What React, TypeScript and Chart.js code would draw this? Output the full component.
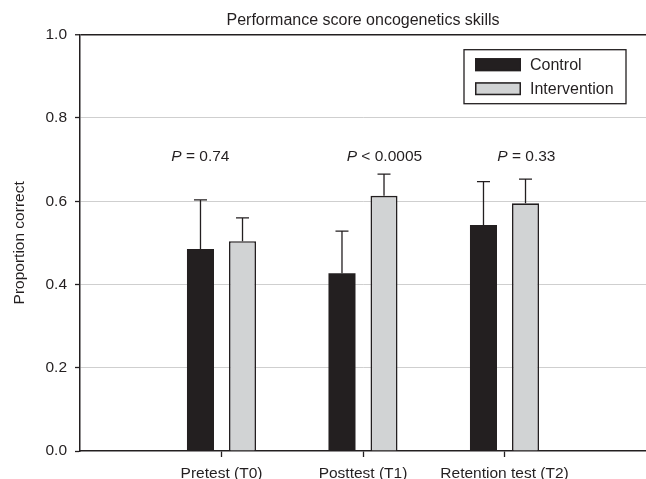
import React, { useEffect, useRef } from 'react';
import { Chart, registerables } from 'chart.js';

Chart.register(...registerables);

// ---- data ----
const categories = ['Pretest (T0)', 'Posttest (T1)', 'Retention test (T2)'];
const seriesNames = ['Control', 'Intervention'];
const controlMeans = [0.485, 0.427, 0.543];
const interventionMeans = [0.504, 0.613, 0.595];
const controlErrors = [0.118, 0.101, 0.104];
const interventionErrors = [0.056, 0.052, 0.058];
const yTickValues = [0, 0.2, 0.4, 0.6, 0.8, 1.0];
const pRelations = ['=', '<', '='];
const pValues = ['0.74', '0.0005', '0.33'];
const chartTitle = 'Performance score oncogenetics skills';
const yAxisTitle = 'Proportion correct';

// ---- style ----
const INK = '#231f20';
const GRAY_FILL = '#d1d3d4';
const GRID = '#cfcfcf';
const FONT = "'Liberation Sans', Arial, Helvetica, sans-serif";

const pad = <T,>(arr: T[]): (T | null)[] => [null, ...arr, null];

const errorBarPlugin = {
  id: 'errorBars',
  afterDatasetsDraw(chart: any, _args: any, opts: any) {
    const ctx = chart.ctx;
    const y = chart.scales.y;
    const errs: (number | null)[][] = opts.errors;
    chart.data.datasets.forEach((ds: any, di: number) => {
      const meta = chart.getDatasetMeta(di);
      meta.data.forEach((bar: any, i: number) => {
        const v = ds.data[i];
        const e = errs[di][i];
        if (v == null || e == null) return;
        const base = y.getPixelForValue(v);
        const top = y.getPixelForValue(v + e);
        ctx.save();
        ctx.strokeStyle = INK;
        ctx.lineWidth = 1.3;
        ctx.beginPath();
        ctx.moveTo(bar.x, base);
        ctx.lineTo(bar.x, top);
        ctx.moveTo(bar.x - 6.5, top);
        ctx.lineTo(bar.x + 6.5, top);
        ctx.stroke();
        ctx.restore();
      });
    });
  },
};

const pValuePlugin = {
  id: 'pValues',
  afterDraw(chart: any, _args: any, opts: any) {
    const ctx = chart.ctx;
    const xs = chart.scales.x;
    const ys = chart.scales.y;
    ctx.save();
    ctx.fillStyle = INK;
    ctx.textBaseline = 'alphabetic';
    ctx.textAlign = 'left';
    opts.items.forEach((it: any) => {
      const x = xs.getPixelForValue(it.xValue);
      const y = ys.getPixelForValue(it.yValue);
      ctx.font = `italic 15.5px ${FONT}`;
      ctx.fillText('P', x, y);
      const w = ctx.measureText('P').width;
      ctx.font = `15.5px ${FONT}`;
      ctx.fillText(` ${it.rel} ${it.value}`, x + w, y);
    });
    ctx.restore();
  },
};

const boxLegendPlugin = {
  id: 'boxLegend',
  afterDraw(chart: any) {
    const ctx = chart.ctx;
    const area = chart.chartArea;
    const w = 162;
    const h = 54;
    const left = area.right - 20 - w;
    const top = area.top + 15;
    ctx.save();
    ctx.fillStyle = '#ffffff';
    ctx.fillRect(left, top, w, h);
    ctx.strokeStyle = INK;
    ctx.lineWidth = 1.3;
    ctx.strokeRect(left, top, w, h);
    ctx.font = `16px ${FONT}`;
    ctx.textBaseline = 'middle';
    ctx.textAlign = 'left';
    chart.data.datasets.forEach((ds: any, i: number) => {
      const cy = top + 15 + i * 24;
      ctx.fillStyle = ds.backgroundColor;
      ctx.fillRect(left + 11, cy - 6.5, 46, 13);
      ctx.strokeStyle = INK;
      ctx.lineWidth = 1.5;
      ctx.strokeRect(left + 11.75, cy - 5.75, 44.5, 11.5);
      ctx.fillStyle = INK;
      ctx.fillText(ds.label, left + 66, cy + 1);
    });
    ctx.restore();
  },
};

export default function App() {
  const canvasRef = useRef<HTMLCanvasElement | null>(null);

  useEffect(() => {
    document.body.style.margin = '0';
    const canvas = canvasRef.current;
    if (!canvas) return;
    const labels = ['', ...categories, ''];
    const chart = new Chart(canvas, {
      type: 'bar',
      data: {
        labels,
        datasets: [
          {
            label: seriesNames[0],
            data: pad(controlMeans),
            backgroundColor: INK,
            borderColor: INK,
            borderWidth: 0,
          },
          {
            label: seriesNames[1],
            data: pad(interventionMeans),
            backgroundColor: GRAY_FILL,
            borderColor: INK,
            borderWidth: 1.6,
          },
        ],
      },
      options: {
        animation: false,
        responsive: true,
        maintainAspectRatio: false,
        categoryPercentage: 0.594,
        barPercentage: 0.643,
        layout: { padding: 0 },
        plugins: {
          legend: { display: false },
          tooltip: { enabled: false },
          title: {
            display: true,
            text: chartTitle,
            fullSize: false,
            color: INK,
            font: { family: FONT, size: 16, weight: 'normal', lineHeight: 1.2 },
            padding: { top: 10.9, bottom: 4.6 },
          },
          errorBars: { errors: [pad(controlErrors), pad(interventionErrors)] },
          pValues: {
            items: [
              { xValue: 0.645, yValue: 0.697, rel: pRelations[0], value: pValues[0] },
              { xValue: 1.885, yValue: 0.697, rel: pRelations[1], value: pValues[1] },
              { xValue: 2.949, yValue: 0.697, rel: pRelations[2], value: pValues[2] },
            ],
          },
        } as any,
        scales: {
          x: {
            type: 'category',
            offset: false,
            afterFit: (s: any) => {
              s.height = 28;
              s.paddingLeft = 0;
              s.paddingRight = 0;
            },
            grid: {
              offset: false,
              drawOnChartArea: false,
              drawTicks: true,
              tickLength: 6,
              tickWidth: 1.3,
              tickColor: (c: any) => (labels[c.index] ? INK : 'rgba(0,0,0,0)'),
            },
            border: { display: true, color: INK, width: 1.5 },
            ticks: {
              color: INK,
              font: { family: FONT, size: 15.5 },
              padding: 7,
              autoSkip: false,
              maxRotation: 0,
            },
          },
          y: {
            min: 0,
            max: 1,
            afterFit: (s: any) => {
              s.width = 80;
            },
            afterBuildTicks: (s: any) => {
              s.ticks = yTickValues.map((v) => ({ value: v }));
            },
            grid: {
              color: (c: any) => (c.tick && c.tick.value === 1 ? INK : c.tick && c.tick.value === 0 ? 'rgba(0,0,0,0)' : GRID),
              lineWidth: (c: any) => (c.tick && c.tick.value === 1 ? 1.5 : 1),
              tickColor: INK,
              tickLength: 5,
              tickWidth: 1.3,
            },
            border: { display: true, color: INK, width: 1.5 },
            ticks: {
              color: INK,
              font: { family: FONT, size: 15.5 },
              padding: 8,
              callback: (v: any) => Number(v).toFixed(1),
            },
            title: {
              display: true,
              text: yAxisTitle,
              color: INK,
              font: { family: FONT, size: 15.5, lineHeight: 1.2 },
              padding: { top: 10, bottom: 0 },
            },
          },
        },
      },
      plugins: [errorBarPlugin, pValuePlugin, boxLegendPlugin],
    } as any);
    return () => chart.destroy();
  }, []);

  return (
    <div style={{ width: 646, height: 479, position: 'relative', background: '#ffffff' }}>
      <canvas ref={canvasRef} />
    </div>
  );
}
